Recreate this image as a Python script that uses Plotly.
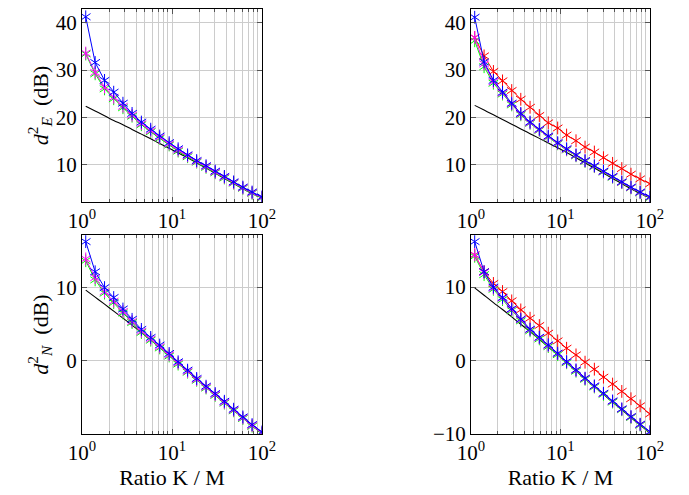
import plotly.graph_objects as go

# Ratio K / M (x values shared by all panels)
ratio = [1.1, 1.4, 1.78, 2.25, 2.85, 3.6, 4.57, 5.8, 7.3, 9.3,
         11.7, 14.9, 18.8, 23.9, 30.2, 38.2, 48.4, 61.3, 77.6, 100]

# Top-left panel (d_E^2, dB)
tl_blue = [41.3, 31.6, 27.8, 25.3, 22.96, 20.8, 18.96, 17.45, 16.0, 14.6,
           13.3, 12.0, 10.8, 9.7, 8.55, 7.43, 6.27, 5.16, 4.12, 3.09]
tl_magenta = [33.6, 29.5, 26.4, 24.2, 22.3, 20.4, 18.6, 17.1, 15.7, 14.3,
              13.0, 11.8, 10.6, 9.5, 8.35, 7.25, 6.1, 5.0, 3.95, 2.95]
tl_green = [33.4, 29.2, 26.0, 23.9, 22.0, 20.2, 18.4, 16.9, 15.5, 14.1,
            12.8, 11.6, 10.45, 9.35, 8.2, 7.1, 6.0, 4.9, 3.85, 2.85]
tl_black = [22.3, 21.3, 20.3, 19.3, 18.4, 17.4, 16.4, 15.4, 14.4, 13.4,
            12.4, 11.4, 10.3, 9.2, 8.1, 7.0, 5.9, 4.8, 3.8, 2.85]

# Top-right panel (d_E^2, dB)
tr_blue = [41.2, 31.7, 27.8, 25.3, 22.96, 20.8, 18.96, 17.45, 16.0, 14.6,
           13.3, 12.0, 10.8, 9.7, 8.55, 7.43, 6.27, 5.16, 4.12, 3.09]
tr_red = [36.9, 33.0, 29.7, 27.7, 25.65, 23.8, 22.1, 20.35, 18.8, 17.7,
          16.2, 15.0, 13.65, 12.6, 11.4, 10.2, 9.1, 7.9, 6.9, 5.86]
tr_green = [36.2, 30.7, 27.2, 24.9, 22.6, 20.5, 18.7, 17.2, 15.75, 14.35,
            13.05, 11.8, 10.6, 9.5, 8.35, 7.25, 6.1, 5.0, 3.95, 2.9]
tr_magenta = [36.9, 31.3, 27.5, 25.1, 22.8, 20.65, 18.8, 17.3, 15.85, 14.45,
              13.15, 11.9, 10.7, 9.6, 8.45, 7.33, 6.17, 5.06, 4.02, 3.0]
tr_black = [22.5, 21.5, 20.5, 19.5, 18.5, 17.5, 16.5, 15.5, 14.5, 13.5,
            12.5, 11.4, 10.3, 9.2, 8.1, 7.0, 5.9, 4.8, 3.8, 2.85]

# Bottom-left panel (d_N^2, dB)
bl_blue = [16.2, 12.1, 9.95, 8.6, 7.04, 5.64, 4.27, 3.18, 2.14, 1.0,
           -0.13, -1.27, -2.4, -3.45, -4.45, -5.5, -6.58, -7.63, -8.67, -9.67]
bl_magenta = [13.85, 11.3, 9.4, 8.1, 6.7, 5.35, 4.0, 2.95, 1.9, 0.8,
              -0.3, -1.45, -2.55, -3.6, -4.6, -5.65, -6.7, -7.75, -8.8, -9.8]
bl_green = [13.6, 11.0, 9.2, 7.9, 6.5, 5.2, 3.85, 2.8, 1.75, 0.65,
            -0.45, -1.55, -2.65, -3.7, -4.7, -5.75, -6.8, -7.85, -8.9, -9.9]
bl_black = [9.6, 8.65, 7.7, 6.75, 5.8, 4.85, 3.85, 2.85, 1.85, 0.8,
            -0.3, -1.4, -2.5, -3.55, -4.6, -5.65, -6.7, -7.75, -8.8, -9.9]

# Bottom-right panel (d_N^2, dB)
br_blue = [16.2, 12.1, 10.0, 8.6, 7.04, 5.64, 4.27, 3.18, 2.14, 1.0,
           -0.13, -1.27, -2.4, -3.45, -4.45, -5.5, -6.58, -7.63, -8.67, -9.67]
br_red = [14.4, 12.1, 10.5, 9.4, 8.13, 6.9, 5.77, 4.77, 3.73, 2.68,
          1.68, 0.77, -0.22, -1.17, -2.26, -3.2, -4.2, -5.2, -6.17, -7.27]
br_green = [14.2, 11.7, 9.7, 8.3, 6.8, 5.4, 4.05, 2.95, 1.9, 0.8,
            -0.3, -1.45, -2.55, -3.6, -4.6, -5.65, -6.7, -7.75, -8.8, -9.8]
br_magenta = [14.4, 12.0, 9.85, 8.5, 6.95, 5.55, 4.2, 3.1, 2.05, 0.95,
              -0.2, -1.33, -2.45, -3.5, -4.5, -5.55, -6.62, -7.68, -8.72, -9.72]
br_black = [9.9, 8.9, 7.9, 6.95, 5.95, 4.95, 3.95, 2.9, 1.85, 0.8,
            -0.3, -1.4, -2.5, -3.55, -4.6, -5.65, -6.7, -7.75, -8.8, -9.9]

x_tickvals = [1, 10, 100]
x_ticktext = ["10<sup>0</sup>", "10<sup>1</sup>", "10<sup>2</sup>"]
x_title = "Ratio K / M"
yE_title = "<i>d</i><sup>2</sup><sub><i>E</i></sub>  (dB)"
yN_title = "<i>d</i><sup>2</sup><sub><i>N</i></sub>  (dB)"

BLUE, RED, GREEN, MAGENTA, BLACK = "#0000ff", "#ff0000", "#00ff00", "#ff00ff", "#000000"
FONT = "Liberation Serif"

fig = go.Figure()

MSIZE = 8


def add_marked(y, color, xa, ya):
    # 6-armed asterisk = "y-up" + "y-down" drawn at the same point
    fig.add_trace(go.Scatter(
        x=ratio, y=y, mode="lines+markers", xaxis=xa, yaxis=ya,
        line=dict(color=color, width=1),
        marker=dict(symbol="y-up-open", size=MSIZE, color=color,
                    line=dict(color=color, width=1)),
        showlegend=False, hoverinfo="skip"))
    fig.add_trace(go.Scatter(
        x=ratio, y=y, mode="markers", xaxis=xa, yaxis=ya,
        marker=dict(symbol="y-down-open", size=MSIZE, color=color,
                    line=dict(color=color, width=1)),
        showlegend=False, hoverinfo="skip"))


def add_black(y, xa, ya):
    fig.add_trace(go.Scatter(
        x=ratio, y=y, mode="lines", xaxis=xa, yaxis=ya,
        line=dict(color=BLACK, width=1.1), line_shape="spline",
        showlegend=False, hoverinfo="skip"))


# top-left
add_black(tl_black, "x", "y")
add_marked(tl_green, GREEN, "x", "y")
add_marked(tl_magenta, MAGENTA, "x", "y")
add_marked(tl_blue, BLUE, "x", "y")
# top-right
add_black(tr_black, "x2", "y2")
add_marked(tr_red, RED, "x2", "y2")
add_marked(tr_green, GREEN, "x2", "y2")
add_marked(tr_magenta, MAGENTA, "x2", "y2")
add_marked(tr_blue, BLUE, "x2", "y2")
# bottom-left
add_black(bl_black, "x3", "y3")
add_marked(bl_green, GREEN, "x3", "y3")
add_marked(bl_magenta, MAGENTA, "x3", "y3")
add_marked(bl_blue, BLUE, "x3", "y3")
# bottom-right
add_black(br_black, "x4", "y4")
add_marked(br_red, RED, "x4", "y4")
add_marked(br_green, GREEN, "x4", "y4")
add_marked(br_magenta, MAGENTA, "x4", "y4")
add_marked(br_blue, BLUE, "x4", "y4")

# the page body has an 8px margin, so the figure is sized to fit the window
W, H = 681, 487
OFF = 8
colL = [(82 - OFF) / W, (262 - OFF) / W]
colR = [(471 - OFF) / W, (650 - OFF) / W]
rowT = [(H - (202 - OFF)) / H, (H - 1) / H]
rowB = [(H - (434 - OFF)) / H, (H - (235 - OFF)) / H]

GRID = "#cccccc"
TICKC = "#555555"
TICKSIZE = 21
TITLESIZE = 22


def xaxis(domain, anchor, title=None):
    d = dict(type="log", domain=domain, anchor=anchor, range=[0, 2],
             automargin=False,
             tickvals=x_tickvals, ticktext=x_ticktext,
             showline=True, linecolor="black", linewidth=1, mirror="allticks",
             ticks="inside", ticklen=5, tickcolor=TICKC,
             showgrid=True, gridcolor=GRID, gridwidth=1, zeroline=False,
             minor=dict(dtick="D1", showgrid=True, gridcolor=GRID, gridwidth=1,
                        ticks="inside", ticklen=3, tickcolor=TICKC),
             tickfont=dict(family=FONT, size=TICKSIZE, color="black"))
    if title:
        d["title"] = dict(text=title, font=dict(family=FONT, size=TITLESIZE, color="black"), standoff=4)
    return d


def yaxis(domain, anchor, rng, title=None):
    d = dict(domain=domain, anchor=anchor, range=rng, dtick=10, tick0=0,
             automargin=False,
             showline=True, linecolor="black", linewidth=1, mirror="allticks",
             ticks="inside", ticklen=5, tickcolor=TICKC,
             showgrid=True, gridcolor=GRID, gridwidth=1, zeroline=False,
             tickfont=dict(family=FONT, size=TICKSIZE, color="black"))
    if title:
        d["title"] = dict(text=title, font=dict(family=FONT, size=TITLESIZE, color="black"), standoff=1)
    return d


fig.update_layout(
    width=W, height=H,
    margin=dict(l=0, r=0, t=0, b=0),
    paper_bgcolor="white", plot_bgcolor="white",
    showlegend=False,
    xaxis=xaxis(colL, "y"),
    yaxis=yaxis(rowT, "x", [2.0, 42.95], yE_title),
    xaxis2=xaxis(colR, "y2"),
    yaxis2=yaxis(rowT, "x2", [2.0, 42.95]),
    xaxis3=xaxis(colL, "y3", x_title),
    yaxis3=yaxis(rowB, "x3", [-9.95, 17.1], yN_title),
    xaxis4=xaxis(colR, "y4", x_title),
    yaxis4=yaxis(rowB, "x4", [-10, 17.1]),
)

fig.write_html("out.html")
